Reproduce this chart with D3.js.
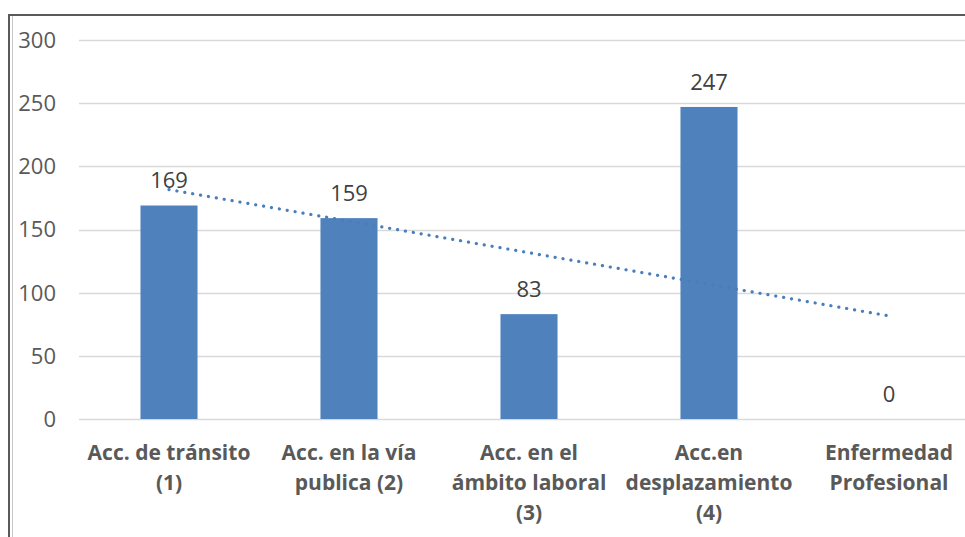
<!DOCTYPE html>
<html>
<head>
<meta charset="utf-8">
<script src="https://cdn.jsdelivr.net/npm/d3@7"></script>
<style>
  html, body { margin: 0; padding: 0; background: #fff; overflow: hidden; }
  svg text { font-family: "Open Sans", "Liberation Sans", sans-serif; }
</style>
</head>
<body>
<svg id="chart" width="965" height="537"></svg>
<script>
// chart data
var categories = ["c1", "c2", "c3", "c4", "c5"];
var categoryLines = [
    ["Acc. de tránsito", "(1)"],
    ["Acc. en la vía", "publica (2)"],
    ["Acc. en el", "ámbito laboral", "(3)"],
    ["Acc.en", "desplazamiento", "(4)"],
    ["Enfermedad", "Profesional"]
];
var values = [169, 159, 83, 247, 0];
var yTicks = [0, 50, 100, 150, 200, 250, 300];

var svg = d3.select("#chart");
var w = 965, h = 537;
var plot = {left: 79, right: 979, top: 40, bottom: 419};

// outer frame (double line on the left like the original)
svg.append("rect")
    .attr("x", 9).attr("y", 15)
    .attr("width", w + 20).attr("height", h + 20)
    .style("fill", "none")
    .style("stroke", "#5a5a5a")
    .style("stroke-width", 2);
svg.append("line")
    .attr("x1", 12.5).attr("x2", 12.5)
    .attr("y1", 16).attr("y2", h)
    .style("stroke", "#c8c8c8")
    .style("stroke-width", 1);

var xScale = d3.scaleBand()
    .domain(categories)
    .range([plot.left, plot.right]);

var yScale = d3.scaleLinear()
    .domain([0, 300])
    .range([plot.bottom, plot.top]);

var barW = xScale.bandwidth() * 0.317;

// gridlines
svg.append("g").attr("class", "grid")
    .selectAll("line")
    .data(yTicks)
    .enter()
    .append("line")
    .attr("x1", plot.left)
    .attr("x2", w)
    .attr("y1", function(d) { return Math.round(yScale(d)) + 0.5; })
    .attr("y2", function(d) { return Math.round(yScale(d)) + 0.5; })
    .style("stroke", "#d9d9d9")
    .style("stroke-width", 1.5);

// y labels
svg.append("g").attr("class", "ylabels")
    .selectAll("text")
    .data(yTicks)
    .enter()
    .append("text")
    .attr("x", 56)
    .attr("y", function(d) { return yScale(d); })
    .attr("dy", "0.36em")
    .attr("text-anchor", "end")
    .style("font-size", "22px")
    .style("fill", "#595959")
    .text(function(d) { return d; });

// bars
svg.append("g").attr("class", "data")
    .selectAll("rect")
    .data(values)
    .enter()
    .append("rect")
    .attr("x", function(d, i) { return xScale(categories[i]) + xScale.bandwidth() / 2 - barW / 2; })
    .attr("y", function(d) { return yScale(d); })
    .attr("width", barW)
    .attr("height", function(d) { return plot.bottom - yScale(d); })
    .style("fill", "#4f81bd");

// linear trendline (least squares over category index)
var n = values.length,
    mx = d3.mean(values, function(d, i) { return i + 1; }),
    my = d3.mean(values),
    sxy = d3.sum(values, function(d, i) { return (i + 1 - mx) * (d - my); }),
    sxx = d3.sum(values, function(d, i) { return (i + 1 - mx) * (i + 1 - mx); }),
    slope = sxy / sxx,
    icpt = my - slope * mx;

var trend = [1, n].map(function(k) {
    return [xScale(categories[k - 1]) + xScale.bandwidth() / 2, yScale(icpt + slope * k)];
});

svg.append("path")
    .attr("d", d3.line()(trend))
    .style("fill", "none")
    .style("stroke", "#4a7ebb")
    .style("stroke-width", 3.2)
    .style("stroke-linecap", "round")
    .style("stroke-dasharray", "0.1,7.9");

// value labels
svg.append("g").attr("class", "values")
    .selectAll("text")
    .data(values)
    .enter()
    .append("text")
    .attr("x", function(d, i) { return xScale(categories[i]) + xScale.bandwidth() / 2; })
    .attr("y", function(d) { return yScale(d) - 17; })
    .attr("text-anchor", "middle")
    .style("font-size", "22px")
    .style("fill", "#404040")
    .text(function(d) { return d; });

// category labels
var cat = svg.append("g").attr("class", "xlabels")
    .selectAll("text")
    .data(categoryLines)
    .enter()
    .append("text")
    .attr("x", function(d, i) { return xScale(categories[i]) + xScale.bandwidth() / 2; })
    .attr("y", 460)
    .attr("text-anchor", "middle")
    .style("font-size", "21px")
    .style("font-weight", "bold")
    .style("fill", "#595959");

cat.each(function(lines) {
    var t = d3.select(this);
    lines.forEach(function(l, j) {
        t.append("tspan")
            .attr("x", t.attr("x"))
            .attr("dy", j === 0 ? 0 : 30)
            .text(l);
    });
});
</script>
</body>
</html>
